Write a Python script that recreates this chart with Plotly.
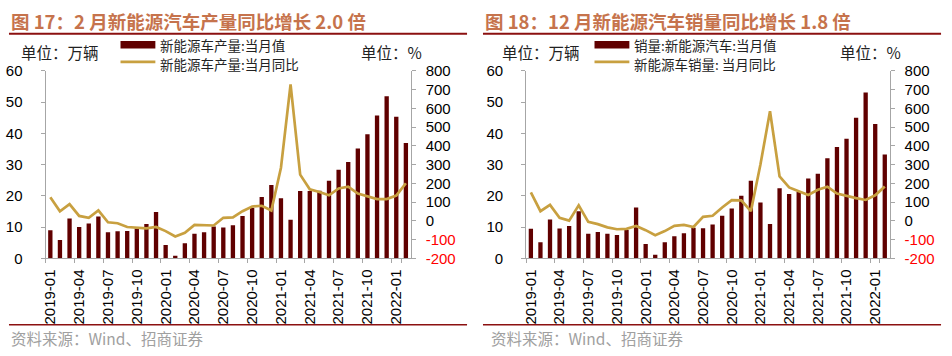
import plotly.graph_objects as go

W, H = 952, 356

# ---------------- data ----------------
months = [f"{y}-{m:02d}" for y in (2019, 2020, 2021) for m in range(1, 13)] + ["2022-01", "2022-02"]
tick_months = months[::3]

prod_value = [9.0, 5.9, 12.8, 10.1, 11.2, 13.4, 8.4, 8.7, 8.8, 9.6, 11.0, 14.9,
              4.3, 0.9, 4.9, 7.9, 8.4, 10.2, 9.9, 10.6, 13.6, 16.2, 19.7, 23.5,
              19.3, 12.4, 21.6, 21.6, 21.7, 24.9, 28.4, 30.9, 35.2, 39.7, 45.7, 51.9,
              45.3, 36.9]
prod_yoy = [127, 52, 90, 27, 17, 56, -7, -12, -32, -37, -39, -32,
            -54, -83, -63, -21, -24, -24, 17, 19, 52, 77, 81, 56,
            284, 728, 247, 169, 154, 137, 173, 183, 146, 130, 117, 117,
            135, 201]

sales_value = [9.5, 5.2, 12.5, 9.6, 10.4, 15.1, 7.9, 8.5, 7.9, 7.5, 9.1, 16.3,
               4.6, 1.2, 5.2, 7.1, 8.1, 9.8, 9.7, 10.9, 13.7, 16.0, 20.1, 24.9,
               17.9, 11.0, 22.5, 20.6, 21.3, 25.6, 27.1, 32.1, 35.7, 38.3, 45.0, 53.1,
               43.0, 33.3]
sales_yoy = [152, 52, 86, 17, 2, 83, -5, -17, -34, -44, -42, -27,
             -49, -76, -54, -26, -21, -32, 22, 28, 72, 111, 110, 52,
             301, 585, 237, 179, 159, 139, 166, 183, 146, 132, 122, 112,
             137, 184]

left_ticks = [0, 10, 20, 30, 40, 50, 60]
right_ticks = [-200, -100, 0, 100, 200, 300, 400, 500, 600, 700, 800]

titles = ["图 17：2 月新能源汽车产量同比增长 2.0 倍", "图 18：12 月新能源汽车销量同比增长 1.8 倍"]
bar_names = ["新能源车产量:当月值", "销量:新能源汽车:当月值"]
line_names = ["新能源车产量:当月同比", "新能源车销量: 当月同比"]
unit_left = "单位：万辆"
unit_right = "单位：%"
source = "资料来源：Wind、招商证券"

# ---------------- style ----------------
BAR = "#600000"
GOLD = "#C8A040"
TITLE_C = "#C6734C"
RULE_C = "#8B1010"
AX_C = "#A6A6A6"
CJK = "Noto Sans CJK SC, sans-serif"
NUM = "Liberation Sans, Arial, sans-serif"
TXT = "#222222"


def px(x):
    return x / W


def py(y):
    return 1 - y / H


right_text = [f'<span style="color:#FF0000">{v}</span>' if v < 0 else str(v) for v in right_ticks]

fig = go.Figure()

panels = [
    dict(x="x", yl="y", yr="y2", val=prod_value, yoy=prod_yoy, x0=41.7, x1=408.4, off=0),
    dict(x="x2", yl="y3", yr="y4", val=sales_value, yoy=sales_yoy, x0=524.3, x1=889.3, off=476),
]

Y_TOP, Y_BOT = 65, 262

annotations = []
shapes = []

for k, p in enumerate(panels):
    fig.add_trace(go.Bar(x=months, y=p["val"], marker_color=BAR, marker_line_width=0,
                         width=0.45, xaxis=p["x"], yaxis=p["yl"], showlegend=False))
    fig.add_trace(go.Scatter(x=months, y=p["yoy"], mode="lines",
                             line=dict(color=GOLD, width=2.7), xaxis=p["x"], yaxis=p["yr"],
                             showlegend=False))
    xa = "xaxis" if k == 0 else "xaxis2"
    yl = "yaxis" if k == 0 else "yaxis3"
    yr = "yaxis2" if k == 0 else "yaxis4"
    fig.update_layout(**{
        xa: dict(domain=[px(p["x0"]), px(p["x1"])], type="category", range=[-0.5, 37.5],
                 tickmode="array", tickvals=tick_months, ticktext=tick_months,
                 ticks="outside", ticklen=4, tickcolor=AX_C, tickson="boundaries",
                 tickangle=-90, tickfont=dict(family=NUM, size=15, color="#000"),
                 ticklabelstandoff=4,
                 showline=True, linecolor=AX_C, linewidth=1, showgrid=False, zeroline=False,
                 anchor=p["yl"], fixedrange=True),
        yl: dict(domain=[py(Y_BOT), py(Y_TOP)], range=[0, 60], tickmode="array",
                 tickvals=left_ticks, ticks="outside", ticklen=4, tickcolor=AX_C,
                 tickfont=dict(family=NUM, size=15, color="#000"), ticklabelstandoff=15,
                 showline=True, linecolor=AX_C, linewidth=1, showgrid=False, zeroline=False,
                 anchor=p["x"], fixedrange=True),
        yr: dict(domain=[py(Y_BOT), py(Y_TOP)], range=[-200, 800], tickmode="array",
                 tickvals=right_ticks, ticktext=right_text, ticks="outside", ticklen=4,
                 tickcolor=AX_C, tickfont=dict(family=NUM, size=15, color="#000"),
                 ticklabelstandoff=7, showline=True, linecolor=AX_C, linewidth=1,
                 showgrid=False, zeroline=False, overlaying=p["yl"], side="right",
                 anchor=p["x"], fixedrange=True),
    })

    o = p["off"]
    # title
    annotations.append(dict(xref="paper", yref="paper", x=px(o + 5), y=py(13), xanchor="left",
                            yanchor="middle", showarrow=False, text=f"<b>{titles[k]}</b>",
                            font=dict(family=CJK, size=18.5, color=TITLE_C)))
    shapes.append(dict(type="line", xref="paper", yref="paper", x0=px(o + 5), x1=px(o + 465),
                       y0=py(26), y1=py(26), line=dict(color=RULE_C, width=2)))
    shapes.append(dict(type="line", xref="paper", yref="paper", x0=px(o + 5), x1=px(o + 465),
                       y0=py(331.7), y1=py(331.7), line=dict(color=RULE_C, width=1.5)))
    # units
    annotations.append(dict(xref="paper", yref="paper", x=px(o + 15 + (7 if k else 0)), y=py(45),
                            xanchor="left", yanchor="middle", showarrow=False, text=unit_left,
                            font=dict(family=CJK, size=15.5, color=TXT)))
    annotations.append(dict(xref="paper", yref="paper", x=px(o + 356 + (6 if k else 0)), y=py(45),
                            xanchor="left", yanchor="middle", showarrow=False, text=unit_right,
                            font=dict(family=CJK, size=15.5, color=TXT)))
    # legend
    lx = o + 117
    shapes.append(dict(type="rect", xref="paper", yref="paper", x0=px(lx), x1=px(lx + 35),
                       y0=py(41.5), y1=py(33.5), fillcolor=BAR, line=dict(width=0)))
    shapes.append(dict(type="line", xref="paper", yref="paper", x0=px(lx), x1=px(lx + 35),
                       y0=py(55.5), y1=py(55.5), line=dict(color=GOLD, width=2.7)))
    annotations.append(dict(xref="paper", yref="paper", x=px(lx + 39), y=py(37.5),
                            xanchor="left", yanchor="middle", showarrow=False, text=bar_names[k],
                            font=dict(family=CJK, size=13.5, color=TXT), borderpad=0))
    annotations.append(dict(xref="paper", yref="paper", x=px(lx + 39), y=py(57.3),
                            xanchor="left", yanchor="middle", showarrow=False, text=line_names[k],
                            font=dict(family=CJK, size=13.5, color=TXT), borderpad=0))
    # source
    annotations.append(dict(xref="paper", yref="paper", x=px(o + 5 + (6 if k else 0)), y=py(345.5),
                            xanchor="left", yanchor="middle", showarrow=False, text=source,
                            font=dict(family=CJK, size=15.5, color="#A0A0A0")))

fig.update_layout(width=W, height=H, autosize=False, margin=dict(l=0, r=0, t=0, b=0, pad=0),
                  paper_bgcolor="white", plot_bgcolor="white", bargap=0.5, hovermode=False,
                  annotations=annotations, shapes=shapes, showlegend=False)

fig.write_html("out.html", config={"displayModeBar": False, "staticPlot": True},
               post_script="document.body.style.margin='0';")
